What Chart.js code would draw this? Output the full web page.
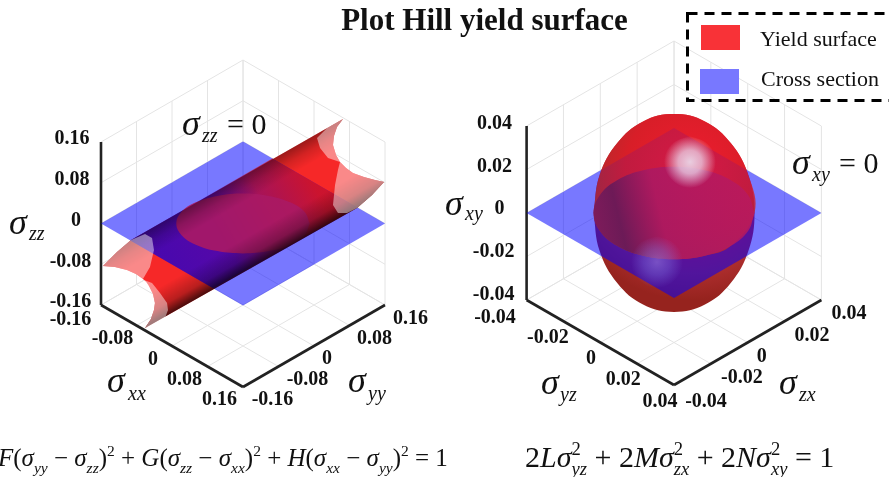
<!DOCTYPE html>
<html><head><meta charset="utf-8">
<style>html,body{margin:0;padding:0;background:#fff}canvas{display:block;filter:blur(0.35px)}</style>
<script src="https://cdn.jsdelivr.net/npm/chart.js@4"></script>
</head><body><canvas id="c" width="889" height="477"></canvas>
<script>
// ---------- data ----------
const ticksLeft = [-0.16,-0.08,0,0.08,0.16];
const ticksRight = [-0.04,-0.02,0,0.02,0.04];
const tickTextLeft = ['-0.16','-0.08','0','0.08','0.16'];
const tickTextRight = ['-0.04','-0.02','0','0.02','0.04'];
const seriesNames = ['Yield surface','Cross section'];

// yield surface outline, left plot: position along sxx=syy and height szz
const bandDiag = [-0.1578,-0.1420,-0.1262,0.1127,0.1059,0.1025,0.1014,0.1048,0.1093,0.1161,0.1239,0.1363,0.1487,0.1589,0.1454,0.1285,0.0530,-0.1104,-0.1037,-0.1003,-0.0992,-0.1014,-0.1059,-0.1090,-0.1127,-0.1206,-0.1307,-0.1442,-0.1578];
const bandRise = [-0.0834,-0.0560,-0.0324,0.2052,0.1895,0.1718,0.1541,0.1345,0.1207,0.1090,0.0991,0.0913,0.0854,0.0815,0.0560,0.0304,-0.0442,-0.2052,-0.1875,-0.1698,-0.1561,-0.1384,-0.1227,-0.1150,-0.1090,-0.0991,-0.0913,-0.0854,-0.0834];
// lighter inside walls at both ends of the left surface
const paleADiag = [-0.1578,-0.1420,-0.1262,-0.1104,-0.1025,-0.1003,-0.1048,-0.1127,-0.1206,-0.1307,-0.1442];
const paleARise = [-0.0834,-0.0560,-0.0324,-0.0206,-0.0285,-0.0520,-0.0854,-0.1090,-0.0991,-0.0913,-0.0854];
const paleBDiag = [-0.1104,-0.1037,-0.1003,-0.0992,-0.1014,-0.1059,-0.1116,-0.1025,-0.0935,-0.0856,-0.0845,-0.0879,-0.0992];
const paleBRise = [-0.2052,-0.1875,-0.1698,-0.1561,-0.1384,-0.1227,-0.1109,-0.1168,-0.1364,-0.1561,-0.1698,-0.1855,-0.1973];
const paleCDiag = [0.0834,0.0947,0.1127,0.1059,0.1025,0.1014,0.1048,0.1093,0.0958,0.0868];
const paleCRise = [0.1679,0.1875,0.2052,0.1895,0.1718,0.1541,0.1345,0.1207,0.1286,0.1482];
const paleDDiag = [0.1093,0.1161,0.1239,0.1363,0.1487,0.1589,0.1454,0.1285,0.1172,0.1070,0.1014,0.1037,0.1070];
const paleDRise = [0.1207,0.1090,0.0991,0.0913,0.0854,0.0815,0.0560,0.0304,0.0206,0.0206,0.0363,0.0756,0.1050];
// where the left surface crosses the plane
const crossXX = [-0.094,-0.094,0.098,0.092];
const crossYY = [-0.16,0.16,0.16,-0.16];
// ellipse szz = 0
const sectionXX = [0.0752,0.0918,0.0945,0.0827,0.0584,0.0251,-0.0119,-0.0471,-0.0752,-0.0918,-0.0945,-0.0827,-0.0584,-0.0251,0.0119,0.0471,0.0752];
const sectionYY = [0.0752,0.0471,0.0119,-0.0251,-0.0584,-0.0827,-0.0945,-0.0918,-0.0752,-0.0471,-0.0119,0.0251,0.0584,0.0827,0.0945,0.0918,0.0752];
// ellipsoid outline, right plot
const eggDiag = [-0.02185,-0.0202,-0.0154,-0.0084,0,0.0084,0.0154,0.0202,0.02185,0.0202,0.0154,0.0084,0,-0.0084,-0.0154,-0.0202,-0.02185];
const eggRise = [0,0.0174,0.0322,0.0421,0.0455,0.0421,0.0322,0.0174,0,-0.0174,-0.0322,-0.0421,-0.0455,-0.0421,-0.0322,-0.0174,0];
// circle sxy = 0
const circleYZ = [0.0218,0.0285,0.0309,0.0285,0.0218,0.0118,0,-0.0118,-0.0218,-0.0285,-0.0309,-0.0285,-0.0218,-0.0118,0,0.0118,0.0218];
const circleZX = [0.0218,0.0118,0,-0.0118,-0.0218,-0.0285,-0.0309,-0.0285,-0.0218,-0.0118,0,0.0118,0.0218,0.0285,0.0309,0.0285,0.0218];
// shiny spots on the ellipsoid
const spotADiag = [0.0043,0.0093,0.0113,0.0093,0.0043,-0.0007,-0.0027,-0.0007,0.0043];
const spotARise = [0.0355,0.0315,0.0235,0.0155,0.0115,0.0155,0.0235,0.0315,0.0355];
const spotBDiag = [-0.0046,0.0004,0.0024,0.0004,-0.0046,-0.0096,-0.0116,-0.0096,-0.0046];
const spotBRise = [-0.0105,-0.0145,-0.0225,-0.0305,-0.0345,-0.0305,-0.0225,-0.0145,-0.0105];

// ---------- projection (layout) ----------
const viewL = {cx:243,cy:223.5,dx:71,dy:41,dz:81.5,r:0.16};
const viewR = {cx:674,cy:213,dx:73.7,dy:42.5,dz:87,r:0.04};
const proj = (V,a,b,c)=>({x:V.cx+(a+b)/V.r*V.dx, y:V.cy+(a-b)/V.r*V.dy-c/V.r*V.dz});
const diag = (V,D,R)=>D.map((d,i)=>proj(V,d,d,R[i]));
const flat = (V,A,B)=>A.map((a,i)=>proj(V,a,B[i],0));

const cv = document.getElementById('c'), g2 = cv.getContext('2d');
const linear = (x0,y0,x1,y1,stops)=>{const g=g2.createLinearGradient(x0,y0,x1,y1);stops.forEach(s=>g.addColorStop(s[0],s[1]));return g;};
const radial = (x,y,r,stops)=>{const g=g2.createRadialGradient(x,y,0,x,y,r);stops.forEach(s=>g.addColorStop(s[0],s[1]));return g;};

const layers = [];
const line = (pts,color,width)=>layers.push({data:pts,borderColor:color,borderWidth:width,fill:false,tension:0,label:'axis'});
const area = (pts,color,label,tension)=>layers.push({data:pts,backgroundColor:color,borderWidth:0,borderColor:'transparent',fill:'shape',tension:tension||0,label:label||'shade'});

function frame(V,T){
  const r=V.r, G='#e4e4e4';
  T.forEach(t=>{
    line([proj(V,t,-r,-r),proj(V,t,r,-r)],G,1);
    line([proj(V,-r,t,-r),proj(V,r,t,-r)],G,1);
    line([proj(V,-r,t,-r),proj(V,-r,t,r)],G,1);
    line([proj(V,-r,-r,t),proj(V,-r,r,t)],G,1);
    line([proj(V,t,r,-r),proj(V,t,r,r)],G,1);
    line([proj(V,-r,r,t),proj(V,r,r,t)],G,1);
  });
  const K='#222';
  line([proj(V,-r,-r,-r),proj(V,-r,-r,r)],K,2.6);
  line([proj(V,-r,-r,-r),proj(V,r,-r,-r)],K,2.6);
  line([proj(V,r,-r,-r),proj(V,r,r,-r)],K,2.6);
}
const planeOf = V=>[proj(V,-V.r,-V.r,0),proj(V,-V.r,V.r,0),proj(V,V.r,V.r,0),proj(V,V.r,-V.r,0)];
const BLUE='rgba(0,0,255,0.53)';

// left plot
frame(viewL,ticksLeft);
area(diag(viewL,bandDiag,bandRise),'rgb(246,40,40)',seriesNames[0]);
area(planeOf(viewL),BLUE,seriesNames[1]);
area(flat(viewL,crossXX,crossYY),linear(172,264,313,184,[[0,'rgba(40,0,190,0.55)'],[0.35,'rgba(60,0,180,0.55)'],[0.68,'rgba(190,20,60,0.7)'],[1,'rgba(225,20,20,0.8)']]));
area(flat(viewL,sectionXX,sectionYY),'rgba(170,25,100,0.9)','section',0.4);
area(diag(viewL,bandDiag,bandRise),linear(243,175.6,284.6,248,[[0,'rgba(0,0,0,0.38)'],[0.14,'rgba(0,0,0,0.14)'],[0.28,'rgba(0,0,0,0)'],[0.66,'rgba(0,0,0,0)'],[0.87,'rgba(0,0,0,0.25)'],[1,'rgba(0,0,0,0.7)']]));
[[paleADiag,paleARise],[paleBDiag,paleBRise],[paleCDiag,paleCRise],[paleDDiag,paleDRise]].forEach(p=>area(diag(viewL,p[0],p[1]),'rgba(255,255,255,0.45)'));

// right plot
frame(viewR,ticksRight);
const eggPts = diag(viewR,eggDiag,eggRise);
const circ = flat(viewR,circleYZ,circleZX);
const eggStops = a=>[[0,`rgba(240,28,48,${a})`],[0.5,`rgba(216,30,40,${a})`],[0.8,`rgba(172,45,45,${a})`],[1,`rgba(150,35,30,${a})`]];
area(eggPts,radial(690,170,130,eggStops(1)),seriesNames[0],0.4);
area(planeOf(viewR),BLUE,seriesNames[1]);
const capPts = eggPts.slice(0,9).concat(circ.slice(2,11));
area(capPts,radial(690,170,130,eggStops(0.8)),'cap',0.4);
area(circ,linear(594,235,755,195,[[0,'rgba(125,25,95,0.85)'],[0.17,'rgba(100,25,90,0.88)'],[0.42,'rgba(170,25,100,0.85)'],[1,'rgba(185,25,95,0.85)']]),'section',0.4);
area(diag(viewR,spotADiag,spotARise),radial(690,162,26,[[0,'rgba(235,225,240,0.9)'],[0.45,'rgba(235,220,240,0.72)'],[1,'rgba(235,220,240,0)']]),'spot',0.4);
area(diag(viewR,spotBDiag,spotBRise),radial(657,262,26,[[0,'rgba(150,130,230,0.55)'],[0.5,'rgba(130,120,230,0.35)'],[1,'rgba(130,120,230,0)']]),'spot',0.4);

layers.forEach((d,i)=>{d.showLine=true;d.pointRadius=0;d.pointHoverRadius=0;d.order=layers.length-i;d.clip=false;});

// ---------- text ----------
const SERIF='"Liberation Serif"';
const BOLD=`bold 20px ${SERIF}`;
function tickRow(V,T,txt,pos,offs){return T.map((t,i)=>{const p=pos(t);return [txt[i],p.x+offs[i][0],p.y+offs[i][1]+2];});}
const L=viewL,R=viewR;
const tickLabels=[].concat(
 tickRow(L,ticksLeft,tickTextLeft,t=>proj(L,-L.r,-L.r,t),[[-30.5,-5],[-30.5,-4],[-25,-5],[-29,-5],[-29,-5]]),
 tickRow(L,ticksLeft,tickTextLeft,t=>proj(L,t,-L.r,-L.r),[[-30.5,13],[-24,11.5],[-19,12],[-23,11.5],[-23.5,11]]),
 tickRow(L,ticksLeft,tickTextLeft,t=>proj(L,L.r,t,-L.r),[[29.5,11],[29,11.5],[13,11],[25,11.5],[25.5,12]]),
 tickRow(R,ticksRight,tickTextRight,t=>proj(R,-R.r,-R.r,t),[[-33,-7],[-33,-6.5],[-27,-6],[-32,-4.5],[-32,-4]]),
 tickRow(R,ticksRight,tickTextRight,t=>proj(R,t,-R.r,-R.r),[[-31.6,16],[-15.5,15],[-9.3,14.5],[-14,14],[-14,15]]),
 tickRow(R,ticksRight,tickTextRight,t=>proj(R,R.r,t,-R.r),[[32,15],[31,12],[14,12.5],[27.5,12.7],[27.6,12]])
);
// sigma labels: [x of sigma, middle y, x of subscript, middle y of subscript, subscript]
const sigmaLabels=[
 [9,225,29,235,'zz'],[107,383,128,395,'xx'],[348,383,368,395,'yy'],[182,126,202,137,'zz'],
 [445,206,465,215,'xy'],[541,385,560,396,'yz'],[779,385,799,396,'zx'],[792,165,812,176,'xy']
];
const zeroLabels=[[227,126],[839,165]];
const eqLeft=[['F','i'],['(','r'],['σ','i'],['yy','s'],[' − ','r'],['σ','i'],['zz','s'],[')','r'],['2','u'],[' + ','r'],['G','i'],['(','r'],['σ','i'],['zz','s'],[' − ','r'],['σ','i'],['xx','s'],[')','r'],['2','u'],[' + ','r'],['H','i'],['(','r'],['σ','i'],['xx','s'],[' − ','r'],['σ','i'],['yy','s'],[')','r'],['2','u'],[' = 1','r']];
const eqRight=[['2','r'],['L','i'],['σ','i'],['2','U'],['yz','s'],[' + 2','r'],['M','i'],['σ','i'],['2','U'],['zx','s'],[' + 2','r'],['N','i'],['σ','i'],['2','U'],['xy','s'],[' = 1','r']];
function runs(c,list,x,y,size){
  c.textBaseline='alphabetic';c.textAlign='left';
  list.forEach(([t,k])=>{
    const sm=size*0.62;
    if(k==='r')c.font=`${size}px ${SERIF}`;
    else if(k==='i')c.font=`italic ${size}px ${SERIF}`;
    else if(k==='s')c.font=`italic ${sm}px ${SERIF}`;
    else c.font=`${sm}px ${SERIF}`;
    const yy=k==='s'?y+size*0.27:(k==='u'||k==='U')?y-size*0.4:y;
    c.fillText(t,x,yy);
    if(k!=='U')x+=c.measureText(t).width;
  });
}
const textPlugin={id:'labels',afterDatasetsDraw(ch){
  const c=ch.ctx;c.save();c.fillStyle='#111';
  // title
  c.font=`bold 31px ${SERIF}`;c.textAlign='center';c.textBaseline='middle';
  c.fillText('Plot Hill yield surface',484.5,22);
  // tick labels
  c.font=BOLD;
  tickLabels.forEach(t=>c.fillText(t[0],t[1],t[2]));
  // sigma labels
  c.textAlign='left';
  sigmaLabels.forEach(s=>{
    c.font=`italic 36px ${SERIF}`;c.fillText('σ',s[0],s[1]);
    c.font=`italic 20px ${SERIF}`;c.fillText(s[4],s[2],s[3]);
  });
  c.font=`30px ${SERIF}`;
  zeroLabels.forEach(z=>c.fillText('= 0',z[0],z[1]));
  // legend
  c.fillStyle='rgb(248,50,55)';c.fillRect(701,25,39,25);
  c.fillStyle='rgb(120,120,255)';c.fillRect(700,69,39,25);
  c.strokeStyle='#000';c.lineWidth=3;c.setLineDash([10,7]);
  c.strokeRect(687.5,13.5,215,87);c.setLineDash([]);
  c.fillStyle='#111';c.font=`22px ${SERIF}`;
  c.fillText(seriesNames[0],760,40);c.fillText(seriesNames[1],761,80);
  // equations
  runs(c,eqLeft,-2,466,25);
  runs(c,eqRight,525,467,30);
  c.restore();
}};

new Chart(cv,{type:'scatter',data:{datasets:layers},plugins:[textPlugin],options:{
  responsive:false,animation:false,events:[],
  layout:{padding:0},
  plugins:{legend:{display:false},title:{display:false},tooltip:{enabled:false}},
  scales:{x:{type:'linear',min:0,max:889,display:false},y:{type:'linear',min:0,max:477,reverse:true,display:false}}
}});
</script></body></html>
